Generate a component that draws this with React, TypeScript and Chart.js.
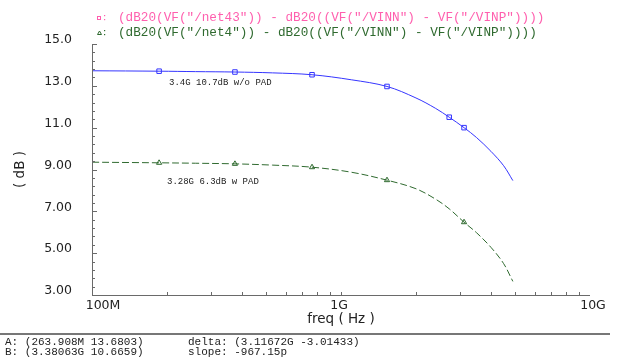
import React, { useEffect, useRef } from "react";
import { Chart, registerables } from "chart.js";

Chart.register(...registerables);

// ---- data ----
const FREQS = [1e8, 1.86e8, 2.6e8, 3.75e8, 5.3e8, 7.65e8, 1.1e9, 1.53e9, 2e9, 2.4e9, 2.72e9, 3.12e9, 3.5e9, 4e9, 4.5e9, 4.9e9];
const NO_PAD_DB = [13.72, 13.7, 13.68, 13.66, 13.62, 13.53, 13.29, 12.97, 12.42, 11.92, 11.5, 11.0, 10.53, 9.87, 9.18, 8.47];
const W_PAD_DB = [9.35, 9.32, 9.3, 9.27, 9.21, 9.11, 8.87, 8.49, 8.08, 7.58, 7.12, 6.48, 5.98, 5.28, 4.5, 3.65];
const NO_PAD_MARKS = [0, 1, 0, 1, 0, 1, 0, 1, 0, 0, 1, 1, 0, 0, 0, 0];
const W_PAD_MARKS = [0, 1, 0, 1, 0, 1, 0, 1, 0, 0, 0, 1, 0, 0, 0, 0];

const Y_TICK_VALUES = [3, 5, 7, 9, 11, 13, 15];
const Y_TICK_LABELS = ["3.00", "5.00", "7.00", "9.00", "11.0", "13.0", "15.0"];
const X_TICK_VALUES = [1e8, 1e9, 1e10];
const X_TICK_LABELS = ["100M", "1G", "10G"];

const TITLE_1 = '(dB20(VF("/net43")) - dB20((VF("/VINN") - VF("/VINP"))))';
const TITLE_2 = '(dB20(VF("/net4")) - dB20((VF("/VINN") - VF("/VINP"))))';
const LABEL_NO_PAD = "3.4G 10.7dB w/o PAD";
const LABEL_W_PAD = "3.28G 6.3dB w PAD";
const CURSOR_A = "A: (263.908M 13.6803)";
const CURSOR_B = "B: (3.38063G 10.6659)";
const DELTA = "delta: (3.11672G -3.01433)";
const SLOPE = "slope: -967.15p";

const BLUE = "#3535ff";
const GREEN = "#2f6a2f";
const PINK = "#ff5fae";
const AXIS = "#6a6a6a";
const TEXT = "#222";

const decoPlugin = {
  id: "deco",
  afterDraw(chart: any) {
    const { ctx, chartArea: a, scales } = chart;
    const x = scales.x;
    const y = scales.y;
    ctx.save();
    // axis lines
    ctx.strokeStyle = AXIS;
    ctx.lineWidth = 1;
    ctx.beginPath();
    ctx.moveTo(Math.round(a.left) + 0.5, a.top);
    ctx.lineTo(Math.round(a.left) + 0.5, Math.round(a.bottom) + 0.5);
    ctx.lineTo(a.right, Math.round(a.bottom) + 0.5);
    ctx.stroke();
    // y ticks (inward)
    ctx.beginPath();
    for (let i = 0; i <= 30; i++) {
      const v = 3 + i * 0.4;
      const py = Math.round(y.getPixelForValue(v)) + 0.5;
      const len = i % 5 === 0 ? 5 : 3;
      ctx.moveTo(a.left, py);
      ctx.lineTo(a.left + len, py);
    }
    // x ticks (inward)
    for (const dec of [1e8, 1e9]) {
      for (let m = 1; m <= 9; m++) {
        const px = Math.round(x.getPixelForValue(m * dec)) + 0.5;
        ctx.moveTo(px, a.bottom);
        ctx.lineTo(px, a.bottom - 3);
      }
    }
    ctx.stroke();

    // y tick labels
    ctx.fillStyle = TEXT;
    ctx.font = '12.5px "DejaVu Sans"';
    ctx.textAlign = "right";
    ctx.textBaseline = "middle";
    Y_TICK_VALUES.forEach((v, i) => {
      ctx.fillText(Y_TICK_LABELS[i], a.left - 20, y.getPixelForValue(v) - 4);
    });
    // x tick labels
    ctx.textAlign = "center";
    const xOff = [11, -2, 3];
    X_TICK_VALUES.forEach((v, i) => {
      ctx.fillText(X_TICK_LABELS[i], x.getPixelForValue(v) + xOff[i], a.bottom + 11);
    });
    // axis titles
    ctx.font = '13.5px "DejaVu Sans"';
    ctx.fillText("freq ( Hz )", (a.left + a.right) / 2, a.bottom + 24);
    ctx.save();
    ctx.translate(20, (a.top + a.bottom) / 2);
    ctx.rotate(-Math.PI / 2);
    ctx.fillText("( dB )", 0, 0);
    ctx.restore();

    // legend titles
    ctx.textAlign = "left";
    ctx.font = '12.7px "Liberation Mono"';
    ctx.fillStyle = PINK;
    ctx.strokeStyle = PINK;
    ctx.strokeRect(97.5, 16.5, 3, 3);
    ctx.fillRect(104, 15, 1.2, 1.2);
    ctx.fillRect(104, 19, 1.2, 1.2);
    ctx.fillText(TITLE_1, 118, 18);
    ctx.fillStyle = GREEN;
    ctx.strokeStyle = GREEN;
    ctx.beginPath();
    ctx.moveTo(97.5, 34.5);
    ctx.lineTo(99.5, 31);
    ctx.lineTo(101.5, 34.5);
    ctx.closePath();
    ctx.stroke();
    ctx.fillRect(104, 30, 1.2, 1.2);
    ctx.fillRect(104, 34, 1.2, 1.2);
    ctx.fillText(TITLE_2, 118, 32.5);

    // curve annotations
    ctx.fillStyle = TEXT;
    ctx.font = '9px "Liberation Mono"';
    ctx.fillText(LABEL_NO_PAD, 169, 83);
    ctx.fillText(LABEL_W_PAD, 167, 182);

    // separator & cursors
    ctx.strokeStyle = "#777";
    ctx.lineWidth = 2;
    ctx.beginPath();
    ctx.moveTo(0, 334);
    ctx.lineTo(610, 334);
    ctx.stroke();
    ctx.font = '11px "Liberation Mono"';
    ctx.fillText(CURSOR_A, 5, 342);
    ctx.fillText(CURSOR_B, 5, 352.5);
    ctx.fillText(DELTA, 188, 342);
    ctx.fillText(SLOPE, 188, 352.5);
    ctx.restore();
  },
};

export default function App() {
  const ref = useRef<HTMLCanvasElement | null>(null);
  useEffect(() => {
    if (!ref.current) return;
    const chart = new Chart(ref.current, {
      type: "line",
      data: {
        datasets: [
          {
            label: "w/o PAD",
            data: FREQS.map((f, i) => ({ x: f, y: NO_PAD_DB[i] })),
            borderColor: BLUE,
            borderWidth: 1,
            pointStyle: "rect",
            pointRadius: NO_PAD_MARKS.map((m) => (m ? 3.2 : 0)),
            pointBorderColor: BLUE,
            pointBackgroundColor: "rgba(0,0,0,0)",
            pointBorderWidth: 1,
            tension: 0.35,
            fill: false,
          },
          {
            label: "w PAD",
            data: FREQS.map((f, i) => ({ x: f, y: W_PAD_DB[i] })),
            borderColor: GREEN,
            borderWidth: 1,
            borderDash: [7, 3],
            pointStyle: "triangle",
            pointRadius: W_PAD_MARKS.map((m) => (m ? 3 : 0)),
            pointBorderColor: GREEN,
            pointBackgroundColor: "rgba(0,0,0,0)",
            pointBorderWidth: 1,
            tension: 0.35,
            fill: false,
          },
        ],
      },
      options: {
        animation: false,
        responsive: false,
        maintainAspectRatio: false,
        layout: { padding: { left: 92, right: 28, top: 44, bottom: 64 } },
        plugins: { legend: { display: false }, tooltip: { enabled: false }, title: { display: false } },
        scales: {
          x: { type: "logarithmic", min: 1e8, max: 1e10, display: false },
          y: { type: "linear", min: 3, max: 15, display: false },
        },
      },
      plugins: [decoPlugin],
    } as any);
    return () => chart.destroy();
  }, []);
  return (
    <div style={{ position: "fixed", left: 0, top: 0, width: 618, height: 359, background: "#fff" }}>
      <canvas ref={ref} width={618} height={359} />
    </div>
  );
}
